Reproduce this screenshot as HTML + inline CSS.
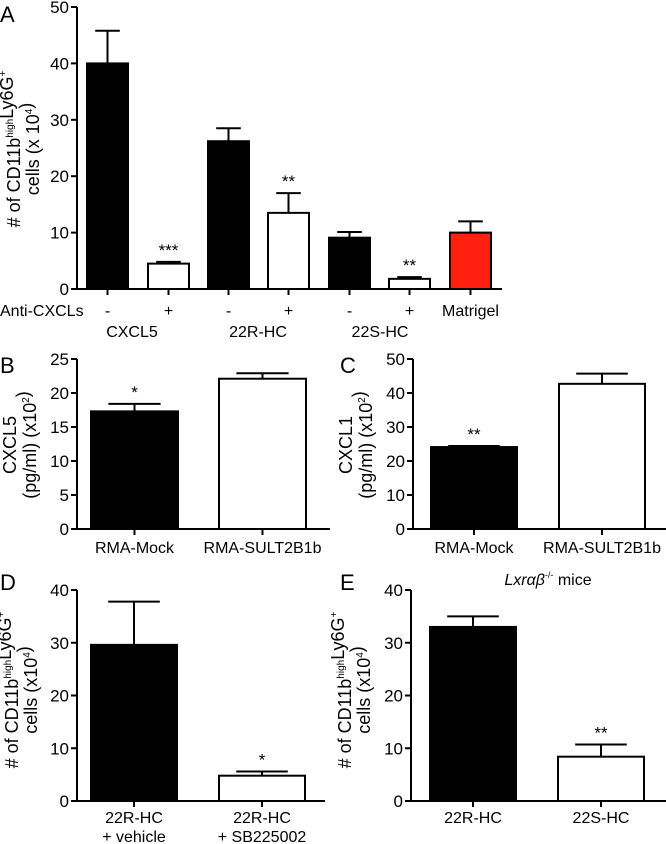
<!DOCTYPE html>
<html><head><meta charset="utf-8">
<style>
html,body{margin:0;padding:0;background:#fff;}
svg{display:block;font-family:"Liberation Sans",sans-serif;}
</style></head>
<body>
<svg id="fig" width="666" height="844" viewBox="0 0 666 844" xmlns="http://www.w3.org/2000/svg"></svg>
<script>
// ---- data ----
const aCats = ['-','+','-','+','-','+','Matrigel'];
const aValues = [40, 4.5, 26.2, 13.5, 9.1, 1.8, 10];
const aErrors = [5.8, 0.3, 2.3, 3.5, 1.0, 0.3, 2.0];
const aFills = ['#000','#fff','#000','#fff','#000','#fff','#ff2010'];
const aStars = ['','***','','**','','**',''];
const aTicks = [0,10,20,30,40,50];

const bCats = ['RMA-Mock','RMA-SULT2B1b'];
const bValues = [17.3, 22.1];
const bErrors = [1.1, 0.8];
const bStars = ['*',''];
const bTicks = [0,5,10,15,20,25];

const cCats = ['RMA-Mock','RMA-SULT2B1b'];
const cValues = [24.1, 42.7];
const cErrors = [0.3, 3.0];
const cStars = ['**',''];
const cTicks = [0,10,20,30,40,50];

const dCats = [['22R-HC','+ vehicle'],['22R-HC','+ SB225002']];
const dValues = [29.6, 4.8];
const dErrors = [8.2, 0.8];
const dStars = ['','*'];
const dTicks = [0,10,20,30,40];

const eCats = ['22R-HC','22S-HC'];
const eValues = [33, 8.4];
const eErrors = [2.0, 2.3];
const eStars = ['','**'];
const eTicks = [0,10,20,30,40];

const NS='http://www.w3.org/2000/svg';
const svg=document.getElementById('fig');
function mk(tag,attrs,parent,text){
  const e=document.createElementNS(NS,tag);
  for(const k in attrs)e.setAttribute(k,attrs[k]);
  if(text!==undefined)e.textContent=text;
  (parent||svg).appendChild(e);return e;
}

function panel(p){
  const g=mk('g',{});
  
  
  const max=p.ticks[p.ticks.length-1];
  const y=v=>p.y0-(v/max)*(p.y0-p.yTop);
  const L=mk('text',{x:p.letterX,y:p.letterY,'font-size':22},g,p.letter);
  
  
  const ya=mk('line',{x1:p.ax,y1:p.yTop,x2:p.ax,y2:p.y0,stroke:'#000','stroke-width':2},g);
  
  
  p.ticks.forEach(t=>{
    mk('line',{x1:p.ax-6,y1:y(t),x2:p.ax,y2:y(t),stroke:'#000','stroke-width':2},g);
    const tl=mk('text',{x:p.ax-8,y:y(t)+6,'font-size':17,'text-anchor':'end'},g,String(t));
    
    
  });
  const xa=mk('line',{x1:p.ax-1,y1:p.y0,x2:p.axEnd,y2:p.y0,stroke:'#000','stroke-width':2},g);
  
  
  p.values.forEach((v,i)=>{
    const x0=p.barX[i], w=p.barW, cx=x0+w/2;
    const top=y(v), et=y(v+p.errors[i]);
    const el=mk('line',{x1:cx,y1:et,x2:cx,y2:top,stroke:'#000','stroke-width':2},g);
    
    
    mk('line',{x1:cx-w*0.3,y1:et,x2:cx+w*0.3,y2:et,stroke:'#000','stroke-width':2},g);
    const r=mk('rect',{x:x0,y:top,width:w,height:p.y0-top,fill:p.fills[i],stroke:'#000','stroke-width':2},g);
    
    
    mk('line',{x1:cx,y1:p.y0,x2:cx,y2:p.y0+6,stroke:'#000','stroke-width':2},g);
    if(p.stars[i]){
      const s=mk('text',{x:cx,y:et-6,'font-size':17,'text-anchor':'middle'},g,p.stars[i]);
      
      
    }
    const c=p.cats[i];
    const lines=Array.isArray(c)?c:[c];
    lines.forEach((ln,j)=>{
      const t=mk('text',{x:cx,y:p.labelY+j*19,'font-size':16,'text-anchor':'middle'},g,ln);
      
      
    });
  });
  p.ylab.forEach((ln,j)=>{
    const t=mk('text',{'font-size':18,'text-anchor':'middle',transform:`translate(${p.ylabX[j]},${p.ylabY}) rotate(-90)`},g);
    t.innerHTML=ln;
    
    
  });
  return {g,y};
}

const sup=s=>`<tspan font-size="10" dy="-7">${s}</tspan><tspan dy="7"></tspan>`;
const ylabCells=`# of CD11b${sup('high')}Ly6G<tspan font-size="10" dy="-7">+</tspan>`;

const A=panel({name:'panel-a',letter:'A',letterX:0,letterY:22,ax:77,axEnd:502,yTop:7,y0:289,
  ticks:aTicks,values:aValues,errors:aErrors,fills:aFills,stars:aStars,cats:aCats,
  barX:[87,148,208,268,329,389,450],barW:41,labelY:316,
  ylab:[ylabCells,`cells (x 10${sup('4')})`],ylabX:[20,39],ylabY:149});
const ac=mk('text',{x:0,y:316,'font-size':16},A.g,'Anti-CXCLs');


[['CXCL5',132],['22R-HC',258],['22S-HC',380]].forEach(([t,x])=>{
  const e=mk('text',{x:x,y:337,'font-size':16,'text-anchor':'middle'},A.g,t);
  
  
});

panel({name:'panel-b',letter:'B',letterX:0,letterY:373,ax:77,axEnd:330,yTop:359,y0:529,
  ticks:bTicks,values:bValues,errors:bErrors,fills:['#000','#fff'],stars:bStars,cats:bCats,
  barX:[91,219],barW:87,labelY:553,
  ylab:['CXCL5',`(pg/ml) (x10${sup('2')})`],ylabX:[16,36],ylabY:445});

panel({name:'panel-c',letter:'C',letterX:340,letterY:373,ax:413,axEnd:666,yTop:359,y0:529,
  ticks:cTicks,values:cValues,errors:cErrors,fills:['#000','#fff'],stars:cStars,cats:cCats,
  barX:[431,559],barW:86,labelY:553,
  ylab:['CXCL1',`(pg/ml) (x10${sup('2')})`],ylabX:[352,372],ylabY:445});

panel({name:'panel-d',letter:'D',letterX:0,letterY:590,ax:77,axEnd:325,yTop:590,y0:801,
  ticks:dTicks,values:dValues,errors:dErrors,fills:['#000','#fff'],stars:dStars,cats:dCats,
  barX:[91,219],barW:86,labelY:823,
  ylab:[ylabCells,`cells (x10${sup('4')})`],ylabX:[18,37],ylabY:690});

const E=panel({name:'panel-e',letter:'E',letterX:340,letterY:590,ax:411,axEnd:666,yTop:590,y0:801,
  ticks:eTicks,values:eValues,errors:eErrors,fills:['#000','#fff'],stars:eStars,cats:eCats,
  barX:[430,558],barW:86,labelY:823,
  ylab:[ylabCells,`cells (x10${sup('4')})`],ylabX:[351,370],ylabY:690});
const et=mk('text',{x:548,y:585,'font-size':16,'text-anchor':'middle'},E.g);
et.innerHTML=`<tspan font-style="italic">Lxrαβ</tspan><tspan font-size="9" dy="-7">-/-</tspan><tspan dy="7"> mice</tspan>`;


</script>
</body></html>
